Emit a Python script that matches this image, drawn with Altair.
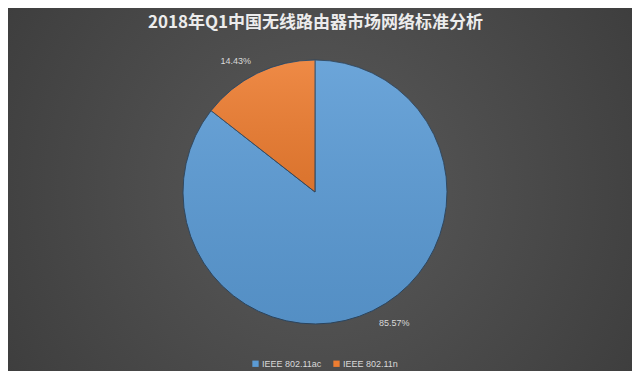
import altair as alt
import pandas as pd

title_text = "2018年Q1中国无线路由器市场网络标准分析"
cats = ["IEEE 802.11ac", "IEEE 802.11n"]
shares = [85.57, 14.43]
colors = ["#5b9bd5", "#ed7d31"]

df = pd.DataFrame({"cat": cats, "share": shares, "idx": list(range(len(cats)))})

W, H = 624, 363
CX, CY = 307, 184

bg = {
    "gradient": "radial",
    "x1": 0.5, "y1": 0.5, "r1": 0,
    "x2": 0.5, "y2": 0.5, "r2": 0.75,
    "stops": [
        {"offset": 0, "color": "#5a5a5a"},
        {"offset": 1, "color": "#363636"},
    ],
}
shade_grad = {
    "gradient": "linear",
    "x1": 0, "y1": 0, "x2": 0, "y2": 1,
    "stops": [
        {"offset": 0, "color": "rgba(255,255,255,0.10)"},
        {"offset": 1, "color": "rgba(0,0,0,0.08)"},
    ],
}

background = alt.Chart(pd.DataFrame({"t": [title_text]})).mark_rect(
    fill=bg, strokeWidth=0
).encode(x=alt.value(0), x2=alt.value(W), y=alt.value(0), y2=alt.value(H))

base = alt.Chart(df).transform_calculate(
    label="format(datum.share, '.2f') + '%'"
).encode(
    theta=alt.Theta("share:Q", stack=True),
    order=alt.Order("idx:Q"),
)

pie = base.mark_arc(radius=132, stroke="#2c4660", strokeWidth=1).encode(
    x=alt.value(CX),
    y=alt.value(CY),
    color=alt.Color(
        "cat:N",
        scale=alt.Scale(domain=cats, range=colors),
        legend=alt.Legend(
            orient="none",
            legendX=243,
            legendY=351,
            direction="horizontal",
            title=None,
            symbolType="square",
            symbolSize=40,
            symbolStrokeWidth=0,
            labelColor="#d9d9d9",
            labelFontSize=9,
            labelFont="Liberation Sans",
            labelOffset=2,
            columnPadding=10,
        ),
    ),
)

shade = base.mark_arc(radius=132, fill=shade_grad, strokeWidth=0).encode(
    x=alt.value(CX), y=alt.value(CY), detail="cat:N"
)

lab_n = base.mark_text(
    radius=146, align="right", baseline="middle", fontSize=9,
    font="Liberation Sans", color="#d9d9d9",
).encode(
    x=alt.value(CX), y=alt.value(CY), detail="cat:N",
    text=alt.condition(alt.datum.cat == cats[1], alt.Text("label:N"), alt.value("")),
)

lab_ac = base.mark_text(
    radius=146, align="left", baseline="middle", fontSize=9,
    font="Liberation Sans", color="#d9d9d9",
).encode(
    x=alt.value(CX), y=alt.value(CY), detail="cat:N",
    text=alt.condition(alt.datum.cat == cats[0], alt.Text("label:N"), alt.value("")),
)

title_layer = alt.Chart(pd.DataFrame({"t": [title_text]})).mark_text(
    font="Noto Sans CJK SC", fontSize=17, fontWeight="bold", color="#ececec",
    align="center", baseline="middle",
).encode(text="t:N", x=alt.value(307.5), y=alt.value(15))

chart = alt.layer(background, pie, shade, lab_n, lab_ac, title_layer).properties(
    width=W, height=H,
    autosize=alt.AutoSizeParams(type="fit", contains="padding"),
    padding=0,
).configure_view(stroke="transparent")

chart.save("out.html", embed_options={"renderer": "svg", "actions": False})
